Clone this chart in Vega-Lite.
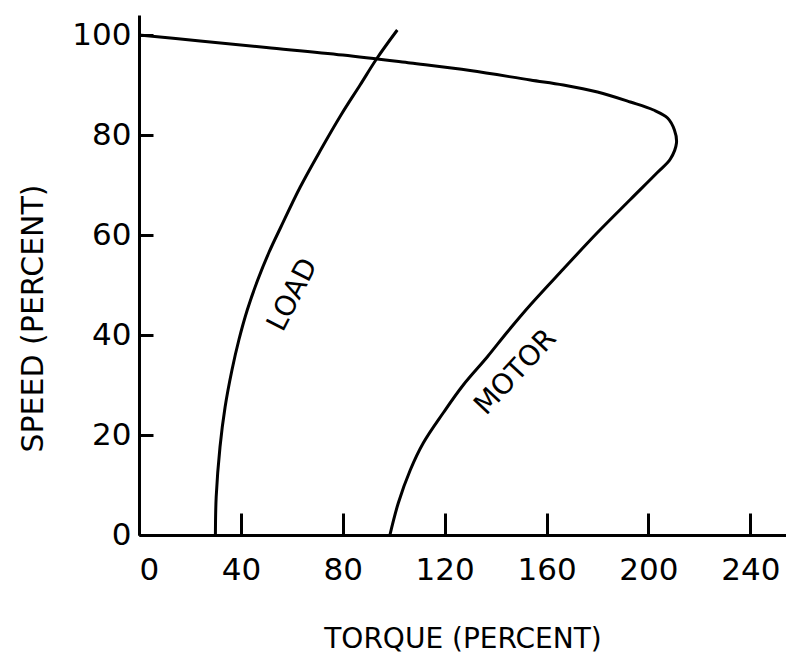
{
  "$schema": "https://vega.github.io/schema/vega-lite/v6.json",
  "autosize": "none",
  "width": 647,
  "height": 520,
  "padding": {"left": 139, "top": 15, "right": 0, "bottom": 125},
  "background": "white",
  "config": {
    "view": {"stroke": null},
    "font": "DejaVu Sans",
    "axis": {
      "grid": false,
      "domainColor": "black",
      "domainWidth": 3,
      "tickColor": "black",
      "tickWidth": 3,
      "labelColor": "black",
      "labelFont": "DejaVu Sans",
      "labelFontSize": 31,
      "titleFont": "DejaVu Sans",
      "titleFontSize": 28,
      "titleFontWeight": "normal",
      "titleColor": "black"
    }
  },
  "datasets": {
    "curves": [
      {"curve": "LOAD", "i": 1, "torque": 30.0, "speed": 0},
      {"curve": "LOAD", "i": 2, "torque": 30.3, "speed": 7.6},
      {"curve": "LOAD", "i": 3, "torque": 31.8, "speed": 17.6},
      {"curve": "LOAD", "i": 4, "torque": 33.8, "speed": 25.6},
      {"curve": "LOAD", "i": 5, "torque": 36.5, "speed": 33.0},
      {"curve": "LOAD", "i": 6, "torque": 39.2, "speed": 39.0},
      {"curve": "LOAD", "i": 7, "torque": 42.5, "speed": 45.0},
      {"curve": "LOAD", "i": 8, "torque": 46.6, "speed": 51.0},
      {"curve": "LOAD", "i": 9, "torque": 51.0, "speed": 56.5},
      {"curve": "LOAD", "i": 10, "torque": 55.6, "speed": 61.5},
      {"curve": "LOAD", "i": 11, "torque": 63.3, "speed": 69.6},
      {"curve": "LOAD", "i": 12, "torque": 71.3, "speed": 77.0},
      {"curve": "LOAD", "i": 13, "torque": 79.3, "speed": 84.0},
      {"curve": "LOAD", "i": 14, "torque": 86.8, "speed": 90.0},
      {"curve": "LOAD", "i": 15, "torque": 93.5, "speed": 95.4},
      {"curve": "LOAD", "i": 16, "torque": 101.4, "speed": 101.0},
      {"curve": "MOTOR", "i": 1, "torque": 98.5, "speed": 0},
      {"curve": "MOTOR", "i": 2, "torque": 101.8, "speed": 6.4},
      {"curve": "MOTOR", "i": 3, "torque": 106.5, "speed": 13.0},
      {"curve": "MOTOR", "i": 4, "torque": 111.6, "speed": 18.4},
      {"curve": "MOTOR", "i": 5, "torque": 119.4, "speed": 24.4},
      {"curve": "MOTOR", "i": 6, "torque": 127.3, "speed": 30.0},
      {"curve": "MOTOR", "i": 7, "torque": 136.7, "speed": 35.6},
      {"curve": "MOTOR", "i": 8, "torque": 144.6, "speed": 40.6},
      {"curve": "MOTOR", "i": 9, "torque": 153.6, "speed": 46.0},
      {"curve": "MOTOR", "i": 10, "torque": 166.6, "speed": 53.2},
      {"curve": "MOTOR", "i": 11, "torque": 180.0, "speed": 60.5},
      {"curve": "MOTOR", "i": 12, "torque": 192.9, "speed": 67.1},
      {"curve": "MOTOR", "i": 13, "torque": 203.5, "speed": 72.5},
      {"curve": "MOTOR", "i": 14, "torque": 208.6, "speed": 75.2},
      {"curve": "MOTOR", "i": 15, "torque": 211.0, "speed": 78.4},
      {"curve": "MOTOR", "i": 16, "torque": 210.2, "speed": 81.0},
      {"curve": "MOTOR", "i": 17, "torque": 207.5, "speed": 83.4},
      {"curve": "MOTOR", "i": 18, "torque": 202.0, "speed": 85.0},
      {"curve": "MOTOR", "i": 19, "torque": 192.9, "speed": 86.6},
      {"curve": "MOTOR", "i": 20, "torque": 180.0, "speed": 88.6},
      {"curve": "MOTOR", "i": 21, "torque": 166.6, "speed": 90.0},
      {"curve": "MOTOR", "i": 22, "torque": 153.6, "speed": 91.0},
      {"curve": "MOTOR", "i": 23, "torque": 130.0, "speed": 92.9},
      {"curve": "MOTOR", "i": 24, "torque": 106.5, "speed": 94.4},
      {"curve": "MOTOR", "i": 25, "torque": 80.0, "speed": 96.0},
      {"curve": "MOTOR", "i": 26, "torque": 50.0, "speed": 97.5},
      {"curve": "MOTOR", "i": 27, "torque": 24.0, "speed": 98.8},
      {"curve": "MOTOR", "i": 28, "torque": 0, "speed": 100.0}
    ],
    "labels": [
      {"label": "LOAD", "torque": 60.5, "speed": 48, "angle": 297},
      {"label": "MOTOR", "torque": 148.0, "speed": 32.5, "angle": 313}
    ]
  },
  "layer": [
    {
      "data": {"name": "curves"},
      "mark": {"type": "line", "color": "black", "strokeWidth": 3, "interpolate": "catmull-rom", "clip": true},
      "encoding": {
        "x": {
          "field": "torque", "type": "quantitative",
          "scale": {"domain": [0, 254], "nice": false, "zero": false},
          "axis": {
            "values": [0, 40, 80, 120, 160, 200, 240],
            "tickSize": -22,
            "labelPadding": 42,
            "title": "TORQUE (PERCENT)",
            "titleY": 104,
            "titleBaseline": "middle"
          }
        },
        "y": {
          "field": "speed", "type": "quantitative",
          "scale": {"domain": [0, 104], "nice": false, "zero": false},
          "axis": {
            "values": [0, 20, 40, 60, 80, 100],
            "tickSize": -14,
            "labelPadding": 22,
            "title": "SPEED (PERCENT)",
            "titleFontSize": 30,
            "titleX": -106,
            "titleY": 303,
            "titleAngle": -90,
            "titleBaseline": "middle",
            "titleAlign": "center"
          }
        },
        "detail": {"field": "curve"},
        "order": {"field": "i", "type": "quantitative"}
      }
    },
    {
      "data": {"name": "labels"},
      "mark": {"type": "text", "color": "black", "font": "DejaVu Sans", "fontSize": 28, "align": "center", "baseline": "middle"},
      "encoding": {
        "x": {"field": "torque", "type": "quantitative"},
        "y": {"field": "speed", "type": "quantitative"},
        "text": {"field": "label"},
        "angle": {"field": "angle", "type": "quantitative", "scale": null}
      }
    }
  ]
}
